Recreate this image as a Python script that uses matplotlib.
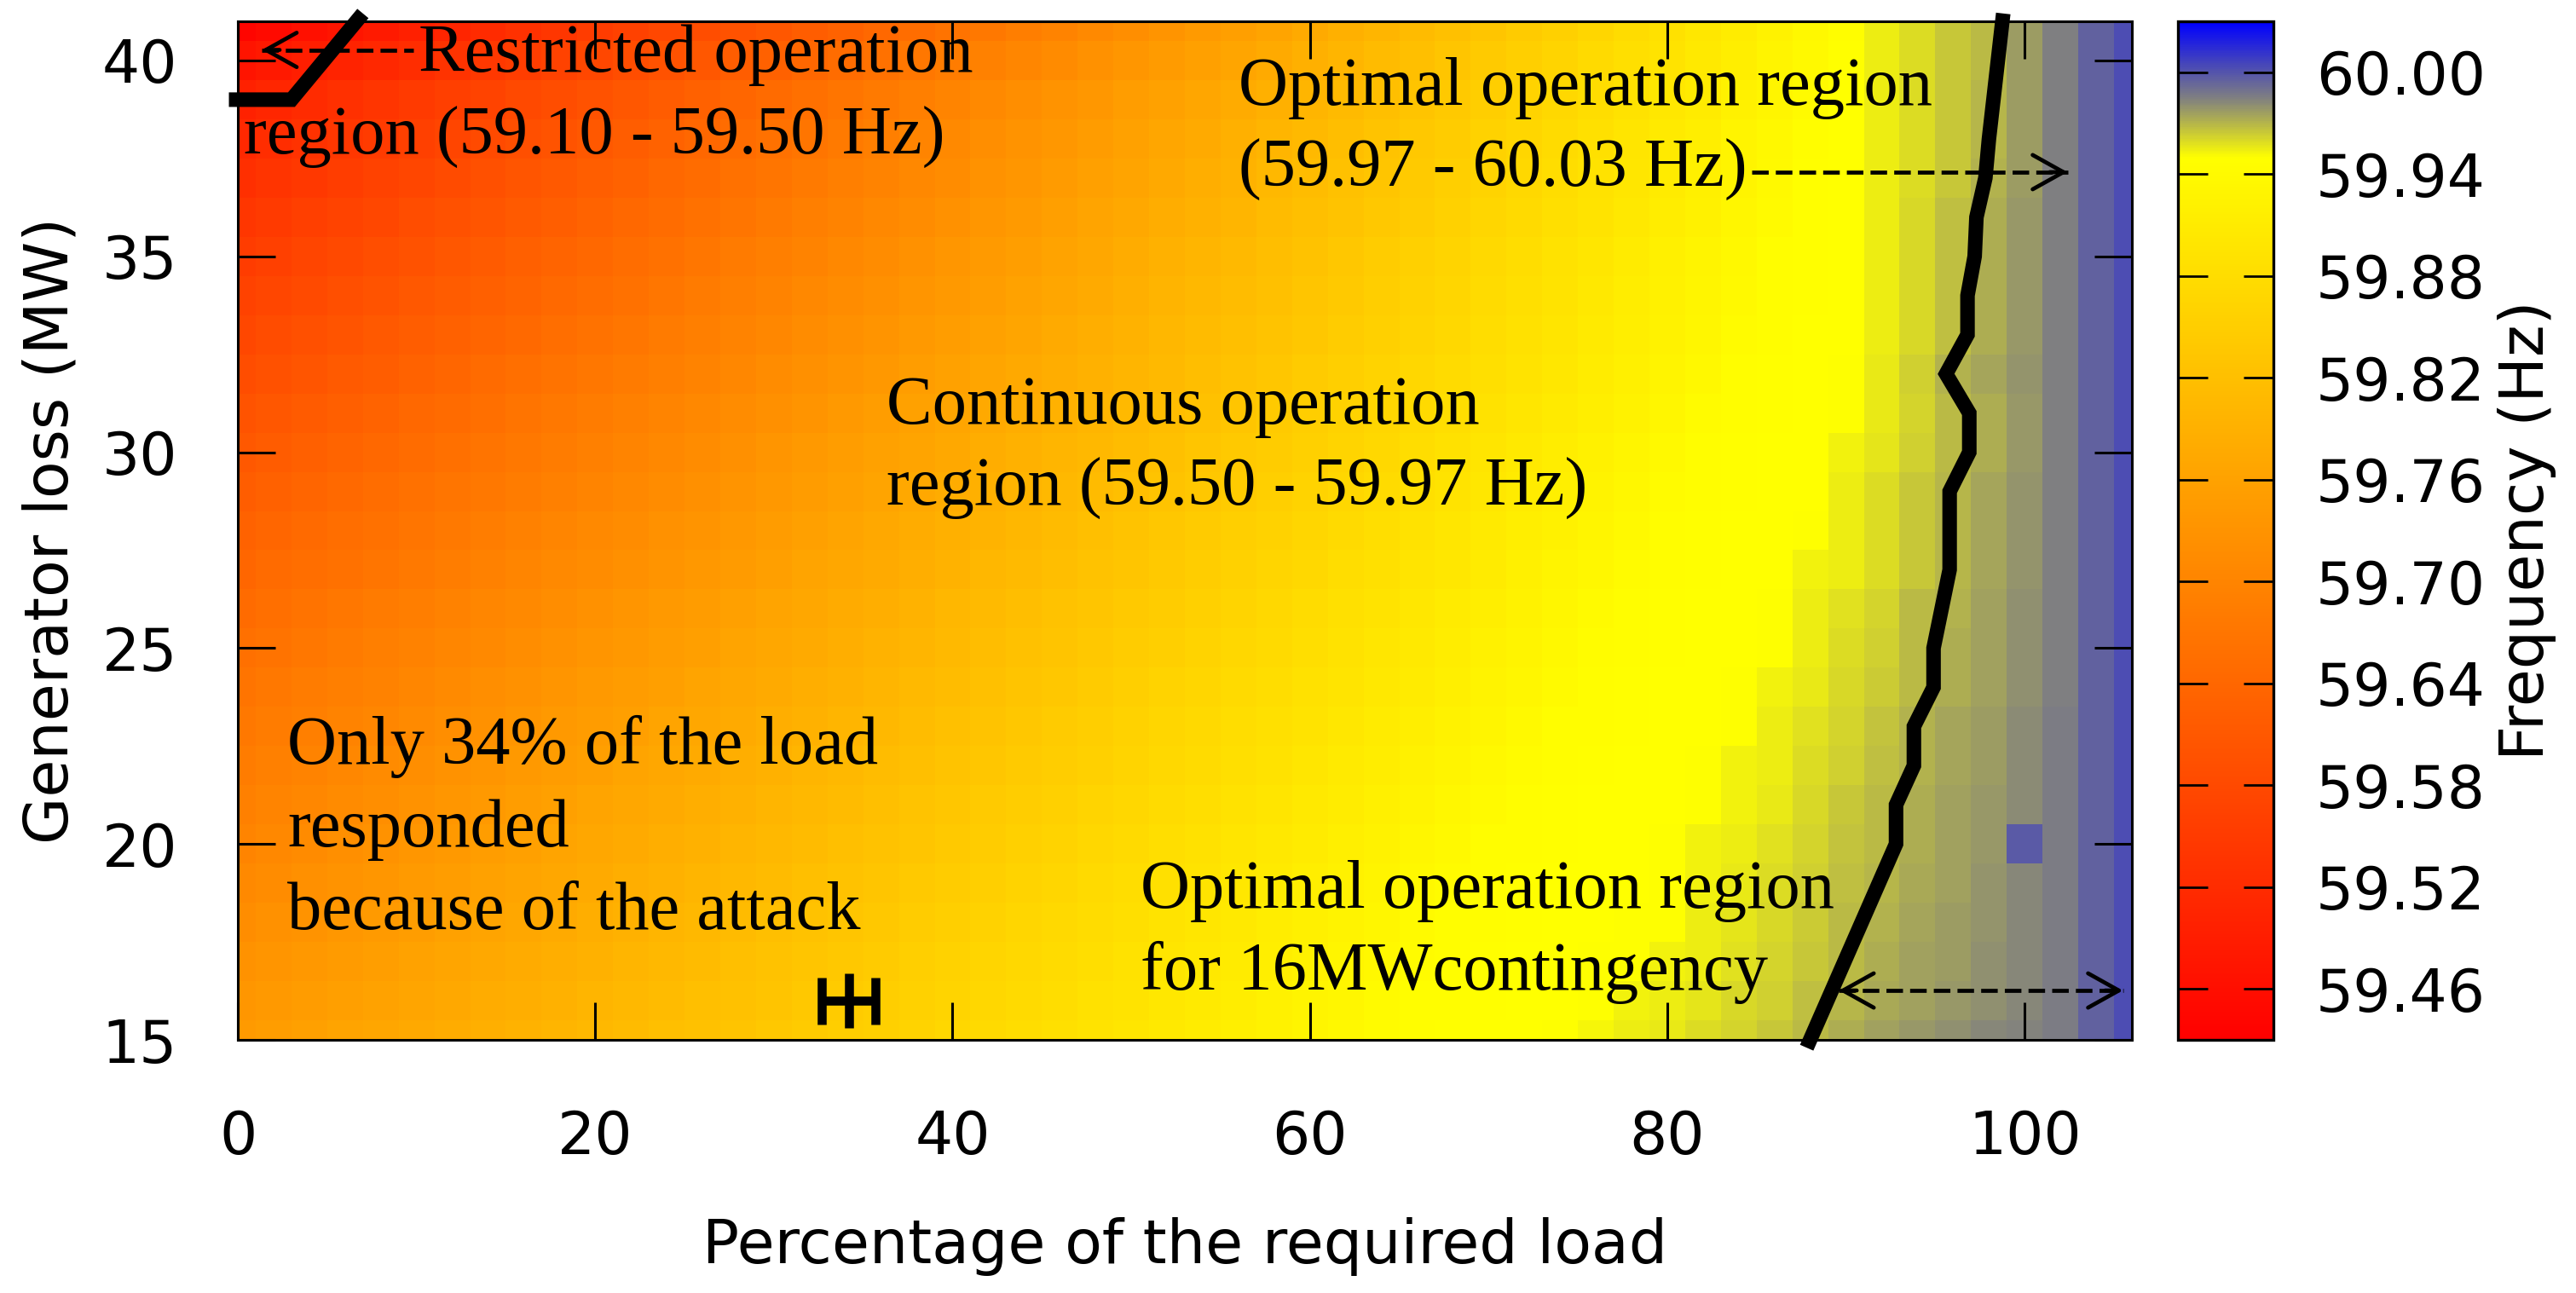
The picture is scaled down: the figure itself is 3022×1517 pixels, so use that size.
import numpy as np
import matplotlib
matplotlib.use("Agg")
import matplotlib.pyplot as plt
from matplotlib.colors import LinearSegmentedColormap

# ---------------- data ----------------
load_pct = [0, 2, 4, 6, 8, 10, 12, 14, 16, 18, 20, 22, 24, 26, 28, 30, 32, 34,
            36, 38, 40, 42, 44, 46, 48, 50, 52, 54, 56, 58, 60, 62, 64, 66, 68,
            70, 72, 74, 76, 78, 80, 82, 84, 86, 88, 90, 92, 94, 96, 98, 100,
            102, 104, 106]
gen_loss_mw = [15, 16, 17, 18, 19, 20, 21, 22, 23, 24, 25, 26, 27, 28, 29, 30,
               31, 32, 33, 34, 35, 36, 37, 38, 39, 40, 41]

# frequency drop below 60 Hz (mHz), one list per generator-loss row
dev_41 = [560, 549, 538, 526, 515, 504, 493, 481, 470, 459, 448, 437, 425, 414, 403, 392, 380, 369, 358, 347,
          336, 324, 313, 302, 291, 280, 268, 257, 246, 235, 223, 212, 201, 190, 179, 167, 156, 145, 134, 122,
          111, 100, 89, 77, 66, 55, 46, 41, 35, 31, 23, 15, 5, -3]
dev_40 = [530, 519, 509, 498, 488, 477, 466, 456, 445, 435, 424, 413, 403, 392, 381, 371, 360, 350, 339, 328,
          318, 307, 297, 286, 275, 265, 254, 244, 233, 222, 212, 201, 190, 180, 169, 159, 148, 137, 127, 116,
          106, 95, 84, 74, 63, 53, 46, 41, 35, 31, 23, 15, 5, -3]
dev_39 = [502, 492, 482, 472, 462, 452, 442, 432, 422, 412, 402, 392, 382, 371, 361, 351, 341, 331, 321, 311,
          301, 291, 281, 271, 261, 251, 241, 231, 221, 211, 201, 191, 181, 171, 161, 151, 140, 130, 120, 110,
          100, 90, 80, 70, 60, 52, 46, 41, 35, 30, 23, 15, 5, -3]
dev_38 = [488, 478, 468, 458, 449, 439, 429, 419, 409, 399, 390, 380, 370, 360, 350, 340, 330, 321, 311, 301,
          291, 281, 271, 262, 252, 242, 232, 222, 212, 202, 193, 183, 173, 163, 153, 143, 134, 124, 114, 104,
          94, 84, 74, 65, 55, 51, 46, 41, 35, 30, 23, 15, 5, -3]
dev_37 = [474, 464, 455, 445, 436, 426, 417, 407, 397, 388, 378, 369, 359, 350, 340, 330, 321, 311, 302, 292,
          283, 273, 263, 254, 244, 235, 225, 216, 206, 196, 187, 177, 168, 158, 149, 139, 129, 120, 110, 101,
          91, 82, 72, 62, 53, 51, 46, 41, 35, 29, 23, 15, 5, -3]
dev_36 = [461, 452, 442, 433, 424, 414, 405, 396, 386, 377, 368, 358, 349, 340, 330, 321, 312, 302, 293, 284,
          274, 265, 256, 246, 237, 228, 218, 209, 200, 190, 181, 172, 162, 153, 144, 134, 125, 116, 106, 97,
          88, 78, 69, 60, 53, 51, 46, 40, 33, 28, 22, 15, 5, -3]
dev_35 = [448, 439, 430, 421, 411, 402, 393, 384, 375, 366, 357, 347, 338, 329, 320, 311, 302, 293, 283, 274,
          265, 256, 247, 238, 229, 219, 210, 201, 192, 183, 174, 165, 155, 146, 137, 128, 119, 110, 101, 91,
          82, 73, 64, 55, 53, 51, 46, 40, 33, 28, 22, 15, 5, -3]
dev_34 = [436, 427, 418, 409, 400, 391, 383, 374, 365, 356, 347, 338, 329, 320, 311, 302, 293, 284, 276, 267,
          258, 249, 240, 231, 222, 213, 204, 195, 186, 178, 169, 160, 151, 142, 133, 124, 115, 106, 97, 88,
          80, 71, 62, 55, 53, 51, 46, 40, 33, 28, 22, 15, 5, -3]
dev_33 = [424, 415, 407, 398, 389, 381, 372, 363, 355, 346, 337, 329, 320, 311, 302, 294, 285, 276, 268, 259,
          250, 242, 233, 224, 216, 207, 198, 190, 181, 172, 164, 155, 146, 138, 129, 120, 112, 103, 94, 86,
          77, 68, 59, 54, 52, 51, 46, 40, 33, 28, 22, 15, 5, -3]
dev_32 = [413, 404, 396, 387, 379, 370, 362, 353, 345, 336, 328, 319, 311, 302, 294, 285, 277, 268, 260, 251,
          243, 234, 226, 217, 209, 200, 192, 183, 174, 166, 157, 149, 140, 132, 123, 115, 106, 98, 89, 81,
          72, 64, 55, 53, 52, 50, 44, 37, 29, 26, 21, 15, 5, -3]
dev_31 = [401, 393, 384, 376, 368, 359, 351, 343, 334, 326, 318, 309, 301, 293, 284, 276, 268, 259, 251, 243,
          234, 226, 218, 209, 201, 193, 184, 176, 168, 159, 151, 143, 134, 126, 118, 109, 101, 93, 84, 76,
          68, 59, 54, 53, 52, 50, 44, 38, 32, 28, 22, 15, 5, -3]
dev_30 = [390, 382, 374, 365, 357, 349, 341, 333, 325, 316, 308, 300, 292, 284, 276, 267, 259, 251, 243, 235,
          227, 218, 210, 202, 194, 186, 178, 169, 161, 153, 145, 137, 129, 120, 112, 104, 96, 88, 80, 71,
          63, 55, 53, 52, 51, 47, 43, 37, 32, 28, 22, 15, 5, -3]
dev_29 = [380, 372, 364, 356, 348, 340, 332, 324, 316, 308, 300, 292, 284, 276, 268, 260, 252, 244, 236, 228,
          220, 212, 204, 196, 188, 180, 172, 164, 156, 148, 139, 131, 123, 115, 107, 99, 91, 83, 75, 67,
          59, 54, 53, 52, 51, 46, 41, 35, 30, 26, 21, 15, 5, -3]
dev_28 = [370, 362, 354, 346, 338, 331, 323, 315, 307, 299, 291, 283, 275, 268, 260, 252, 244, 236, 228, 220,
          212, 205, 197, 189, 181, 173, 165, 157, 149, 142, 134, 126, 118, 110, 102, 94, 86, 79, 71, 63,
          55, 53, 52, 51, 50, 46, 41, 35, 30, 26, 21, 15, 5, -3]
dev_27 = [361, 353, 346, 338, 330, 322, 315, 307, 299, 291, 284, 276, 268, 260, 253, 245, 237, 229, 222, 214,
          206, 198, 191, 183, 175, 167, 160, 152, 144, 136, 129, 121, 113, 105, 98, 90, 82, 74, 67, 59,
          54, 53, 52, 51, 47, 45, 41, 35, 30, 26, 21, 15, 5, -3]
dev_26 = [351, 343, 336, 328, 320, 313, 305, 298, 290, 282, 275, 267, 259, 252, 244, 237, 229, 221, 214, 206,
          198, 191, 183, 175, 168, 160, 153, 145, 137, 130, 122, 114, 107, 99, 91, 84, 76, 69, 61, 55,
          53, 52, 51, 50, 46, 42, 38, 32, 29, 25, 20, 15, 5, -3]
dev_25 = [342, 335, 327, 320, 312, 305, 297, 290, 282, 275, 267, 260, 252, 245, 237, 230, 222, 215, 207, 200,
          192, 185, 177, 170, 162, 155, 147, 140, 132, 125, 117, 110, 102, 95, 87, 80, 72, 65, 57, 54,
          53, 52, 51, 50, 45, 41, 37, 31, 28, 24, 20, 15, 5, -3]
dev_24 = [333, 326, 318, 311, 304, 296, 289, 281, 274, 267, 259, 252, 245, 237, 230, 223, 215, 208, 200, 193,
          186, 178, 171, 164, 156, 149, 141, 134, 127, 119, 112, 105, 97, 90, 83, 75, 68, 60, 55, 53,
          52, 51, 50, 47, 44, 40, 36, 31, 28, 24, 20, 15, 5, -3]
dev_23 = [325, 318, 310, 303, 296, 288, 281, 274, 267, 259, 252, 245, 237, 230, 223, 215, 208, 201, 194, 186,
          179, 172, 164, 157, 150, 143, 135, 128, 121, 113, 106, 99, 91, 84, 77, 70, 62, 55, 54, 53,
          52, 51, 50, 46, 42, 38, 34, 29, 26, 23, 19, 14, 5, -3]
dev_22 = [316, 309, 302, 295, 287, 280, 273, 266, 259, 252, 245, 237, 230, 223, 216, 209, 202, 195, 187, 180,
          173, 166, 159, 152, 145, 137, 130, 123, 116, 109, 102, 94, 87, 80, 73, 66, 59, 54, 53, 52,
          51, 50, 47, 45, 41, 37, 33, 29, 26, 23, 19, 14, 5, -3]
dev_21 = [308, 301, 294, 287, 280, 273, 265, 258, 251, 244, 237, 230, 223, 216, 209, 202, 195, 188, 181, 173,
          166, 159, 152, 145, 138, 131, 124, 117, 110, 103, 96, 89, 82, 75, 67, 60, 55, 53, 52, 51,
          51, 50, 47, 44, 40, 35, 31, 28, 25, 22, 19, 14, 5, -3]
dev_20 = [300, 293, 286, 279, 272, 265, 258, 251, 244, 237, 230, 223, 216, 209, 202, 195, 188, 181, 174, 167,
          160, 153, 146, 139, 132, 125, 118, 111, 104, 97, 90, 83, 76, 69, 62, 55, 54, 53, 52, 51,
          50, 47, 45, 42, 38, 34, 31, 28, 25, 22, 2, 14, 5, -3]
dev_19 = [291, 284, 277, 270, 264, 257, 250, 243, 236, 229, 223, 216, 209, 202, 195, 188, 182, 175, 168, 161,
          154, 147, 141, 134, 127, 120, 113, 106, 100, 93, 86, 79, 72, 65, 59, 54, 53, 52, 51, 51,
          50, 47, 44, 41, 37, 33, 30, 27, 24, 21, 18, 14, 5, -3]
dev_18 = [282, 275, 269, 262, 255, 249, 242, 235, 229, 222, 215, 209, 202, 195, 189, 182, 175, 168, 162, 155,
          148, 142, 135, 128, 122, 115, 108, 102, 95, 88, 82, 75, 68, 61, 55, 54, 53, 52, 51, 50,
          50, 46, 43, 40, 36, 32, 29, 26, 23, 21, 18, 14, 5, -3]
dev_17 = [273, 266, 260, 253, 247, 240, 234, 227, 221, 214, 208, 201, 195, 188, 182, 175, 169, 162, 156, 149,
          143, 136, 130, 123, 117, 110, 104, 97, 91, 84, 78, 71, 65, 58, 54, 53, 52, 51, 50, 50,
          47, 45, 42, 39, 35, 31, 28, 25, 23, 20, 17, 14, 5, -3]
dev_16 = [265, 259, 252, 246, 240, 233, 227, 220, 214, 208, 201, 195, 189, 182, 176, 170, 163, 157, 150, 144,
          138, 131, 125, 119, 112, 106, 99, 93, 87, 80, 74, 68, 61, 55, 54, 53, 52, 51, 50, 47,
          45, 43, 40, 37, 33, 30, 27, 24, 22, 20, 17, 14, 5, -3]
dev_15 = [256, 250, 244, 237, 231, 225, 219, 213, 207, 200, 194, 188, 182, 176, 170, 163, 157, 151, 145, 139,
          132, 126, 120, 114, 108, 102, 95, 89, 83, 77, 71, 64, 58, 54, 53, 52, 51, 50, 48, 46,
          44, 41, 38, 35, 31, 28, 25, 22, 20, 18, 16, 14, 5, -3]

contour_load = [98.8, 98.5, 98.0, 97.8, 97.3, 97.2, 96.8, 96.8, 95.6, 96.9, 96.9,
                95.8, 95.8, 94.9, 94.9, 93.8, 93.8, 92.8, 92.8, 87.8]
contour_loss = [41.2, 40.0, 38.0, 37.0, 36.0, 35.0, 34.0, 33.0, 32.0, 31.0, 30.0,
                29.0, 27.0, 25.0, 24.0, 23.0, 22.0, 21.0, 20.0, 14.8]
restricted_load = [-0.5, 3.0, 7.0]
restricted_loss = [39.0, 39.0, 41.2]

# attack marker
attack_load = [34.2]
attack_loss = [16.0]
attack_err = [1.5]

x_ticks = [0, 20, 40, 60, 80, 100]
y_ticks = [15, 20, 25, 30, 35, 40]
cbar_ticks = [59.46, 59.52, 59.58, 59.64, 59.70, 59.76, 59.82, 59.88, 59.94, 60.00]
freq_min, freq_max = 59.43, 60.03

rows = [dev_15, dev_16, dev_17, dev_18, dev_19, dev_20, dev_21, dev_22, dev_23,
        dev_24, dev_25, dev_26, dev_27, dev_28, dev_29, dev_30, dev_31, dev_32,
        dev_33, dev_34, dev_35, dev_36, dev_37, dev_38, dev_39, dev_40, dev_41]
freq = 60.0 - np.array(rows, dtype=float) / 1000.0

# ---------------- figure ----------------
W, H = 3022, 1517
fig = plt.figure(figsize=(W / 100, H / 100), dpi=100)
ax = fig.add_axes([279 / W, 297 / H, 2222 / W, 1195 / H])
cax = fig.add_axes([2555 / W, 297 / H, 112 / W, 1195 / H])

span = freq_max - freq_min
cmap = LinearSegmentedColormap.from_list(
    "freq",
    [(0.0, "#ff0000"),
     ((59.95 - freq_min) / span, "#ffff00"),
     ((59.985 - freq_min) / span, "#808080"),
     (1.0, "#0000ff")], N=512)

mesh = ax.pcolormesh(load_pct, gen_loss_mw, freq, cmap=cmap, vmin=freq_min,
                     vmax=freq_max, shading="nearest", edgecolors="face",
                     linewidth=0, antialiased=False)
ax.set_xlim(0, 106)
ax.set_ylim(15, 41)

# boundary lines
ax.plot(contour_load, contour_loss, color="black", lw=12.3, clip_on=False,
        solid_joinstyle="miter", solid_capstyle="butt", zorder=5)
ax.plot(restricted_load, restricted_loss, color="black", lw=12.3, clip_on=False,
        solid_joinstyle="miter", solid_capstyle="butt", zorder=5)

# attack marker
ax.errorbar(attack_load, attack_loss, xerr=attack_err, fmt="|", color="black",
            ms=46, mew=7.6, elinewidth=7.6, capsize=19.8, capthick=7.6, zorder=6)

# annotations
serif = dict(family="Liberation Serif", fontsize=58, color="black",
             ha="left", va="baseline", zorder=7)
ax.text(10.1, 39.72, "Restricted operation", **serif)
ax.text(0.33, 37.62, "region (59.10 - 59.50 Hz)", **serif)
ax.text(56.0, 38.86, "Optimal operation region", **serif)
ax.text(56.0, 36.79, "(59.97 - 60.03 Hz)", **serif)
ax.text(36.3, 30.72, "Continuous operation", **serif)
ax.text(36.3, 28.65, "region (59.50 - 59.97 Hz)", **serif)
ax.text(2.77, 22.05, "Only 34% of the load", **serif)
ax.text(2.77, 19.94, "responded", **serif)
ax.text(2.77, 17.83, "because of the attack", **serif)
ax.text(50.5, 18.37, "Optimal operation region", **serif)
ax.text(50.5, 16.29, "for 16MWcontingency", **serif)

plt.rcParams["lines.scale_dashes"] = False
dash = (0, (14, 6))
ARROW_LW = 3.4


def dashed(x0, x1, y):
    ax.plot([x0, x1], [y, y], color="black", lw=ARROW_LW, ls=dash,
            solid_capstyle="butt", dash_capstyle="butt", zorder=6)


def head(tip_x, y, direction):
    ax.annotate("", xy=(tip_x, y), xytext=(tip_x - direction * 1.0, y),
                arrowprops=dict(arrowstyle="->,head_length=2.6,head_width=1.45",
                                lw=ARROW_LW, color="black", shrinkA=0, shrinkB=0,
                                mutation_scale=10),
                zorder=6)


dashed(1.34, 9.85, 40.27)
head(1.34, 40.27, -1)
dashed(84.7, 102.4, 37.15)
head(102.4, 37.15, 1)
dashed(89.6, 105.5, 16.26)
head(89.6, 16.26, -1)
head(105.5, 16.26, 1)

# axes styling
ax.set_xticks(x_ticks)
ax.set_yticks(y_ticks)
ax.tick_params(direction="in", length=32, width=2.2, top=True, right=True,
               labelsize=50, colors="black")
ax.tick_params(axis="x", pad=58)
ax.tick_params(axis="y", pad=51)
for s in ax.spines.values():
    s.set_linewidth(2.2)

ax.set_xlabel("Percentage of the required load", fontsize=51.5)
ax.xaxis.set_label_coords(0.5, -0.1738)
ax.set_ylabel("Generator loss (MW)", fontsize=51.5)
ax.yaxis.set_label_coords(-0.083, 0.5)

cb = fig.colorbar(mesh, cax=cax, ticks=cbar_ticks)
cb.ax.set_yticklabels([f"{t:.2f}" for t in cbar_ticks])
cb.ax.yaxis.set_ticks_position("both")
cb.ax.tick_params(direction="in", length=25, width=2.0, left=True, right=True,
                  labelleft=False, labelright=True, labelsize=50, pad=36)
cb.outline.set_linewidth(2.4)
cb.set_label("Frequency (Hz)", fontsize=51.5)
cb.ax.yaxis.set_label_position("right")
cb.ax.yaxis.set_label_coords(3.348, 0.5)

fig.savefig("out.png", dpi=100)
